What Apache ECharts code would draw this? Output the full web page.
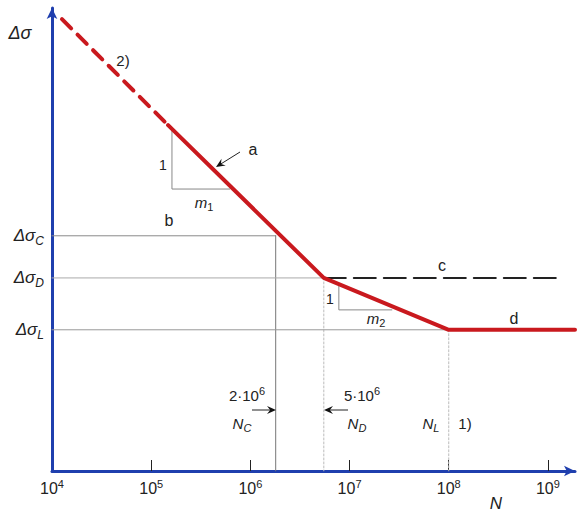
<!DOCTYPE html>
<html>
<head>
<meta charset="utf-8">
<script src="https://cdn.jsdelivr.net/npm/echarts@6/dist/echarts.min.js"></script>
<style>
html, body { margin: 0; background: #fff; }
#main { width: 579px; height: 514px; }
</style>
</head>
<body>
<div id="main"></div>
<script>
// schematic S-N curve, N on a log axis, stress in arbitrary units
var curveN = [1.26e4, 1.48e5, 5.5e6, 1e8, 1.875e9];
var curveS = [97.6, 74.7, 41.7, 30.5, 30.5];
var cutoffN = [5.5e6, 1.38e9];          // line c (constant amplitude limit)
var refNames = ['C', 'D', 'L'];
var refN = [1.8e6, 5.5e6, 1e8];
var refS = [50.8, 41.7, 30.5];
var slope1N = [1.62e5, 1.62e5, 6.2e5];
var slope1S = [74, 60.9, 60.9];
var slope2N = [7.8e6, 7.8e6, 2.67e7];
var slope2S = [40.4, 34.8, 34.8];
var xTicks = [1e4, 1e5, 1e6, 1e7, 1e8, 1e9];
var xMin = 1e4, xMax = 1.875e9;

var FONT = '"Liberation Sans", Arial, sans-serif';
var RED = '#c9191e', BLUE = '#1f3fae';

var pairs = function (xs, ys) { return xs.map(function (x, i) { return [x, ys[i]]; }); };

var chart = echarts.init(document.getElementById('main'), null, { renderer: 'svg' });

function lineSeries(data, color, width, type, z) {
    return {
        type: 'line', data: data, showSymbol: false, silent: true, z: z || 2,
        lineStyle: { color: color, width: width, type: type || 'solid', cap: 'round' }
    };
}

var series = [];
// reference lines
series.push(lineSeries([[xMin, refS[0]], [refN[0], refS[0]]], '#8a8a8a', 1));
series.push(lineSeries([[refN[0], refS[0]], [refN[0], 0]], '#777', 1));
series.push(lineSeries([[xMin, refS[1]], [refN[1], refS[1]]], '#aaa', 1));
series.push(lineSeries([[refN[1], refS[1]], [refN[1], 0]], '#bbb', 1, [2, 2]));
series.push(lineSeries([[xMin, refS[2]], [refN[2], refS[2]]], '#999', 1));
series.push(lineSeries([[refN[2], refS[2]], [refN[2], 0]], '#bbb', 1, [2, 2]));
// slope triangles
series.push(lineSeries(pairs(slope1N, slope1S), '#888', 1));
series.push(lineSeries(pairs(slope2N, slope2S), '#888', 1));
// cut-off line c
series.push(lineSeries([[cutoffN[0], refS[1]], [cutoffN[1], refS[1]]], '#222', 2, [22, 8], 3));
// S-N curve
series.push(lineSeries(pairs(curveN.slice(0, 2), curveS.slice(0, 2)), RED, 4, [13, 9], 4));
series.push(lineSeries(pairs(curveN.slice(1), curveS.slice(1)), RED, 4, 'solid', 4));

function txt(text, x, y, size, italic, rich) {
    return {
        type: 'text', x: x, y: y, z: 10,
        style: {
            text: text, fill: '#222', align: 'center', verticalAlign: 'middle',
            font: (italic ? 'italic ' : '') + size + 'px ' + FONT,
            rich: rich
        }
    };
}
function arrow(x1, y1, x2, y2) {
    var a = Math.atan2(y2 - y1, x2 - x1), L = 9, W = 4;
    var bx = x2 - L * Math.cos(a), by = y2 - L * Math.sin(a);
    var nx = -Math.sin(a) * W, ny = Math.cos(a) * W;
    var mx = x2 - 0.65 * L * Math.cos(a), my = y2 - 0.65 * L * Math.sin(a);
    return [
        { type: 'line', z: 10, shape: { x1: x1, y1: y1, x2: mx, y2: my }, style: { stroke: '#222', lineWidth: 1 } },
        { type: 'polygon', z: 10, shape: { points: [[x2, y2], [bx + nx, by + ny], [mx, my], [bx - nx, by - ny]] }, style: { fill: '#111' } }
    ];
}
var subRich = {
    i: { fontFamily: FONT, fontStyle: 'italic', fontSize: 15, fill: '#222' },
    s: { fontFamily: FONT, fontSize: 11, fill: '#222', padding: [9, 0, 0, 0] },
    si: { fontFamily: FONT, fontStyle: 'italic', fontSize: 11, fill: '#222', padding: [9, 0, 0, 0] },
    n: { fontFamily: FONT, fontSize: 15, fill: '#222' },
    p: { fontFamily: FONT, fontSize: 11, fill: '#222', padding: [0, 0, 9, 0] }
};

var graphics = [
    txt('Δσ', 20, 33, 18, true),
    txt('2)', 123, 60, 15),
    txt('a', 253, 149, 16),
    txt('b', 169, 220, 16),
    txt('c', 442, 265, 16),
    txt('d', 514, 318, 16),
    txt('1', 163, 165, 14),
    txt('{i|m}{s|1}', 204, 202, 15, true, subRich),
    txt('1', 330, 299, 14),
    txt('{i|m}{s|2}', 376, 318, 15, true, subRich),
    txt('{n|2·10}{p|6}', 247, 395, 15, false, subRich),
    txt('{i|N}{si|C}', 242, 423, 15, true, subRich),
    txt('{n|5·10}{p|6}', 362, 395, 15, false, subRich),
    txt('{i|N}{si|D}', 357, 423, 15, true, subRich),
    txt('{i|N}{si|L}', 431, 423, 15, true, subRich),
    txt('1)', 465, 423, 15),
    txt('N', 496, 503, 17, true)
].concat(arrow(240, 152, 216, 167), arrow(252, 410, 276, 410), arrow(348, 410, 324, 410));

var option = {
    backgroundColor: '#fff',
    animation: false,
    grid: { left: 52, right: 4, top: 8, bottom: 43 },
    xAxis: {
        type: 'log', min: xMin, max: xMax, logBase: 10,
        splitLine: { show: false },
        axisLine: { lineStyle: { color: BLUE, width: 3 }, symbol: ['none', 'arrow'], symbolSize: [8, 11] },
        axisTick: { show: true, inside: true, length: 11, lineStyle: { color: '#222', width: 1 }, customValues: xTicks.slice(1) },
        axisLabel: {
            customValues: xTicks, margin: 7, color: '#222',
            formatter: function (v) { return '{n|10}{p|' + Math.round(Math.log10(v)) + '}'; },
            rich: {
                n: { fontFamily: FONT, fontSize: 16, color: '#222' },
                p: { fontFamily: FONT, fontSize: 11, color: '#222', padding: [0, 0, 9, 0] }
            }
        }
    },
    yAxis: {
        type: 'value', min: 0, max: 100,
        splitLine: { show: false },
        axisLine: { show: true, lineStyle: { color: BLUE, width: 3 }, symbol: ['none', 'arrow'], symbolSize: [8, 11] },
        axisTick: { show: false },
        axisLabel: {
            customValues: refS, margin: 8, color: '#222',
            formatter: function (v) { return '{d|Δσ}{s|' + refNames[refS.indexOf(v)] + '}'; },
            rich: {
                d: { fontFamily: FONT, fontStyle: 'italic', fontSize: 17, color: '#222' },
                s: { fontFamily: FONT, fontStyle: 'italic', fontSize: 12, color: '#222', padding: [10, 0, 0, 0] }
            }
        }
    },
    graphic: graphics,
    series: series
};
chart.setOption(option);
</script>
</body>
</html>
